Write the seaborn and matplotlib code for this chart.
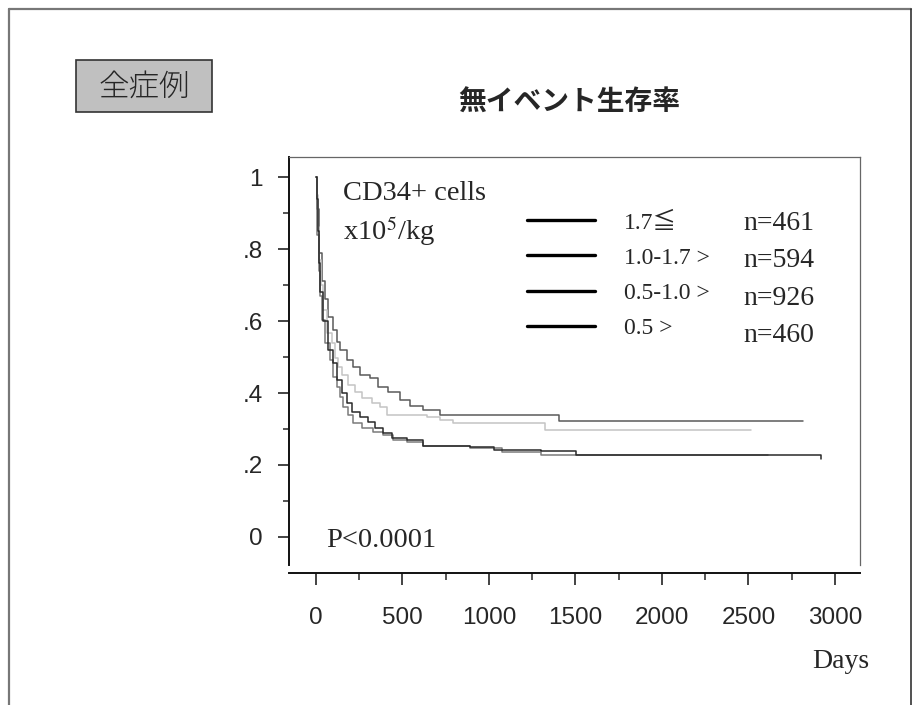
import numpy as np
import pandas as pd
import seaborn as sns
import matplotlib.pyplot as plt
from matplotlib.lines import Line2D
from matplotlib.patches import Rectangle
from matplotlib.ticker import MultipleLocator

# Kaplan-Meier step points (days, event-free survival)
days_17 = [0, 3, 8, 19, 33, 52, 71, 96, 119, 139, 177, 215, 254, 312, 358, 416, 486, 543, 618, 717, 1403, 2818]
surv_17 = [1.0, 0.98, 0.91, 0.79, 0.71, 0.66, 0.61, 0.575, 0.543, 0.519, 0.492, 0.473, 0.45, 0.441, 0.417, 0.404,
           0.381, 0.364, 0.353, 0.340, 0.323, 0.323]

days_10_17 = [0, 4, 10, 18, 28, 40, 62, 90, 110, 129, 148, 187, 225, 264, 322, 370, 409, 640, 717, 790, 1323, 2515]
surv_10_17 = [1.0, 0.95, 0.86, 0.77, 0.70, 0.63, 0.567, 0.538, 0.497, 0.473, 0.45, 0.422, 0.404, 0.385, 0.371,
              0.362, 0.339, 0.332, 0.325, 0.316, 0.298, 0.298]

days_05_10 = [0, 3, 8, 15, 22, 33, 52, 81, 100, 119, 139, 158, 187, 216, 264, 331, 389, 447, 524, 620, 893, 1075,
              1300, 2612]
surv_05_10 = [1.0, 0.93, 0.84, 0.74, 0.67, 0.603, 0.538, 0.492, 0.445, 0.417, 0.39, 0.362, 0.339, 0.316, 0.302,
              0.293, 0.283, 0.269, 0.265, 0.254, 0.246, 0.235, 0.227, 0.227]

days_05 = [0, 4, 9, 16, 25, 40, 71, 100, 119, 148, 177, 206, 254, 302, 341, 389, 438, 524, 620, 893, 1031, 1300,
           1506, 2920]
surv_05 = [1.0, 0.94, 0.85, 0.76, 0.68, 0.60, 0.519, 0.482, 0.436, 0.399, 0.371, 0.348, 0.334, 0.32, 0.302, 0.288,
           0.274, 0.269, 0.254, 0.251, 0.242, 0.238, 0.229, 0.218]

groups = ['1.7≦', '1.0-1.7 >', '0.5-1.0 >', '0.5 >']
n_labels = ['n=461', 'n=594', 'n=926', 'n=460']
line_colors = ['#5a5a5a', '#c4c4c4', '#7a7a7a', '#2a2a2a']
y_ticks = [0, 0.2, 0.4, 0.6, 0.8, 1.0]
y_ticklabels = ['0', '.2', '.4', '.6', '.8', '1']
x_ticks = [0, 500, 1000, 1500, 2000, 2500, 3000]

frames = []
for g, d, s in zip(groups, [days_17, days_10_17, days_05_10, days_05], [surv_17, surv_10_17, surv_05_10, surv_05]):
    frames.append(pd.DataFrame({'days': d, 'surv': s, 'group': g}))
df = pd.concat(frames, ignore_index=True)

sns.set_style('white')
plt.rcParams['font.family'] = ['Liberation Sans', 'Noto Sans CJK JP', 'DejaVu Sans']
plt.rcParams['mathtext.fontset'] = 'stix'

W, H = 918, 705
fig = plt.figure(figsize=(W / 100, H / 100), dpi=100)
ax = fig.add_axes([289 / W, 1 - 565 / H, (860 - 289) / W, (565 - 157) / H])

sns.lineplot(data=df, x='days', y='surv', hue='group', hue_order=groups, palette=line_colors,
             drawstyle='steps-post', estimator=None, linewidth=1.1, legend=False, ax=ax)

ax.set_xlim(-156, 3145)
ax.set_ylim(-0.0778, 1.0556)
ax.set_xlabel('')
ax.set_ylabel('')
ax.set_xticks(x_ticks)
ax.set_yticks(y_ticks)
ax.set_yticklabels(y_ticklabels)
ax.xaxis.set_minor_locator(MultipleLocator(250))
ax.yaxis.set_minor_locator(MultipleLocator(0.1))
ax.tick_params(axis='both', which='major', direction='out', width=1.1, color='#111111', labelsize=17.5)
ax.tick_params(axis='y', which='major', length=8, pad=11, left=True)
ax.tick_params(axis='x', which='major', length=8.6, pad=16, bottom=True)
ax.tick_params(axis='y', which='minor', length=4.3, width=1.1, left=True)
ax.tick_params(axis='x', which='minor', length=5, width=1.1, bottom=True)

for side in ['left', 'bottom']:
    ax.spines[side].set_color('#111111')
    ax.spines[side].set_linewidth(1.4)
for side in ['top', 'right']:
    ax.spines[side].set_color('#666666')
    ax.spines[side].set_linewidth(0.9)
ax.spines['bottom'].set_position(('outward', 5.8))

# legend: black lines, labels, and n column
handles = [Line2D([], [], color='black', linewidth=2.4) for _ in groups]
leg = ax.legend(handles, groups, loc='upper left', bbox_to_anchor=(527 / W, 1 - 212 / H),
                bbox_transform=fig.transFigure, frameon=False, borderpad=0, borderaxespad=0,
                handlelength=2.88, handletextpad=1.22, labelspacing=0.58,
                prop={'family': ['Liberation Serif', 'Noto Sans CJK JP'], 'size': 17})
for i, n in enumerate(n_labels):
    fig.text(743 / W, 1 - (230 + i * 37.3) / H, n, family='Liberation Serif', fontsize=20, va='baseline')

serif = 'Liberation Serif'
fig.text(343 / W, 1 - 200 / H, 'CD34+ cells', family=serif, fontsize=20.5, va='baseline')
fig.text(343 / W, 1 - 240 / H, 'x10$^5$/kg', family=serif, fontsize=20.5, va='baseline')
fig.text(326 / W, 1 - 547 / H, 'P<0.0001', family=serif, fontsize=20.5, va='baseline')
fig.text(869 / W, 1 - 668 / H, 'Days', family=serif, fontsize=20, va='baseline', ha='right')

fig.text(569 / W, 1 - 103 / H, '無イベント生存率', family=['Noto Sans CJK JP', 'DejaVu Sans'],
         fontsize=20, fontweight='bold', ha='center', va='center')

# "全症例" label box
fig.add_artist(Rectangle((76 / W, 1 - 112 / H), (212 - 76) / W, (112 - 60) / H, transform=fig.transFigure,
                         facecolor='#c0c0c0', edgecolor='#333333', linewidth=1.2))
fig.text(144 / W, 1 - 87 / H, '全症例', family=['Noto Sans CJK JP', 'DejaVu Sans'], fontsize=22,
         fontweight='light', ha='center', va='center')

# outer frame (open at the bottom)
fig.add_artist(Line2D([9 / W, 9 / W], [0, 1 - 9 / H], transform=fig.transFigure, color='#777777', linewidth=1.6))
fig.add_artist(Line2D([9 / W, 911 / W], [1 - 9 / H, 1 - 9 / H], transform=fig.transFigure, color='#777777', linewidth=1.6))
fig.add_artist(Line2D([911 / W, 911 / W], [0, 1 - 9 / H], transform=fig.transFigure, color='#333333', linewidth=1.2))

fig.savefig('out.png', dpi=100)
